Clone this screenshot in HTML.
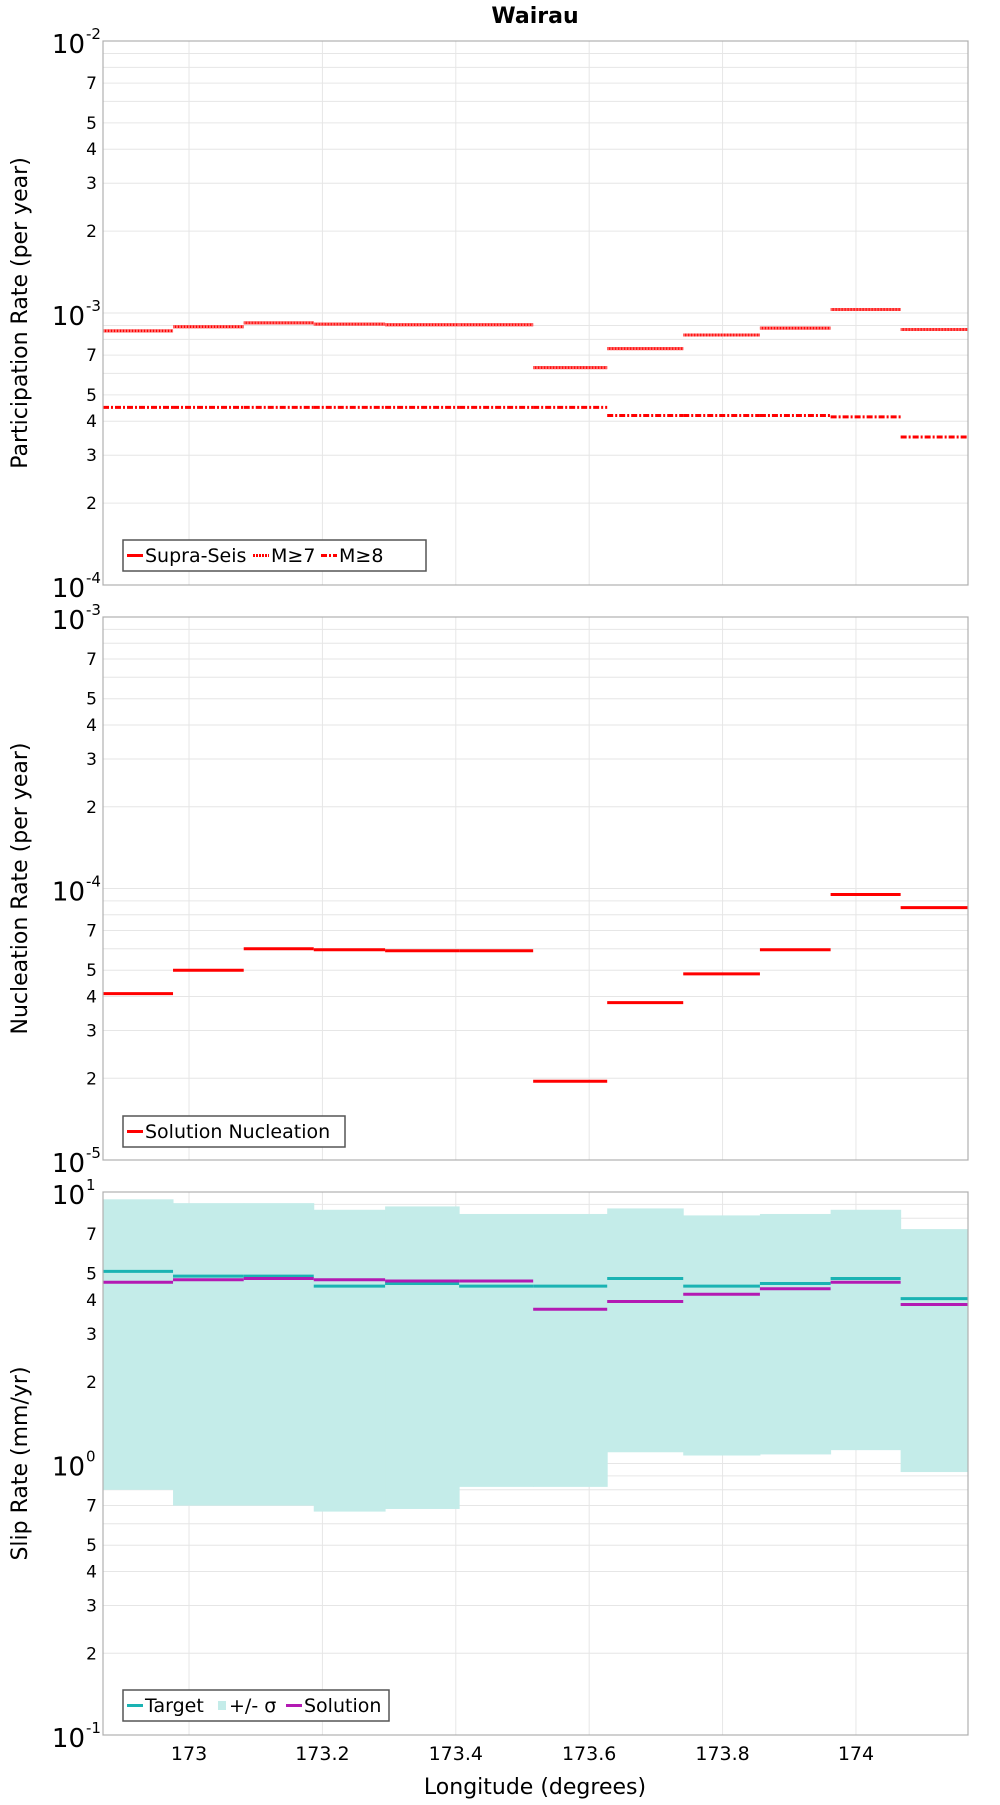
<!DOCTYPE html>
<html><head><meta charset="utf-8"><style>
body{margin:0;background:#fff;}
svg text{font-family:"DejaVu Sans","Liberation Sans",sans-serif;}
</style></head><body>
<svg id="chart" width="1000" height="1800" viewBox="0 0 1000 1800" xmlns="http://www.w3.org/2000/svg">
<text x="535" y="23" font-size="22" font-weight="bold" text-anchor="middle">Wairau</text>
</svg>
<script>
const bounds=[172.871,172.976,173.082,173.187,173.294,173.405,173.516,173.627,173.741,173.856,173.962,174.067,174.168];
const xTicks=[173,173.2,173.4,173.6,173.8,174];
const xTickLabels=["173","173.2","173.4","173.6","173.8","174"];
const supraSeis=[0.86e-3,0.89e-3,0.92e-3,0.91e-3,0.905e-3,0.905e-3,0.63e-3,0.74e-3,0.83e-3,0.88e-3,1.03e-3,0.87e-3];
const m7=[0.86e-3,0.89e-3,0.92e-3,0.91e-3,0.905e-3,0.905e-3,0.63e-3,0.74e-3,0.83e-3,0.88e-3,1.03e-3,0.87e-3];
const m8=[0.45e-3,0.45e-3,0.45e-3,0.45e-3,0.45e-3,0.45e-3,0.45e-3,0.42e-3,0.42e-3,0.42e-3,0.415e-3,0.35e-3];
const nucleation=[4.1e-5,5.0e-5,6.0e-5,5.95e-5,5.9e-5,5.9e-5,1.95e-5,3.8e-5,4.85e-5,5.95e-5,9.5e-5,8.5e-5];
const slipTarget=[5.1,4.9,4.9,4.5,4.6,4.5,4.5,4.8,4.5,4.6,4.8,4.05];
const slipSolution=[4.65,4.75,4.8,4.75,4.7,4.7,3.7,3.95,4.2,4.4,4.65,3.85];
const sigmaUpper=[9.4,9.1,9.1,8.6,8.85,8.3,8.3,8.7,8.2,8.3,8.6,7.3];
const sigmaLower=[0.80,0.70,0.70,0.665,0.68,0.82,0.82,1.10,1.07,1.08,1.12,0.93];

const NS="http://www.w3.org/2000/svg";
const svg=document.getElementById('chart');
const L=103,R=968;
function X(v){return L+(v-bounds[0])/(bounds[12]-bounds[0])*(R-L);}
function mk(tag,attrs,parent){const e=document.createElementNS(NS,tag);for(const k in attrs)e.setAttribute(k,attrs[k]);(parent||svg).appendChild(e);return e;}

function panel(top,bot,minExp,title,name){
  const g=mk('g',{});
  
  
  const Y=v=>bot-(Math.log10(v)-minExp)/2*(bot-top);
  // grid
  for(let d=0;d<2;d++)for(let m=2;m<=9;m++){
    const v=m*Math.pow(10,minExp+d);const y=Y(v);
    const ln=mk('line',{x1:L,x2:R,y1:y,y2:y,stroke:'#e6e6e6','stroke-width':1},g);
    
    if([2,3,4,5,7].includes(m)){
      const t=mk('text',{x:L-6,y:y+6,'font-size':17,'text-anchor':'end'},g);t.textContent=m;
      
    }
  }
  const yMid=Y(Math.pow(10,minExp+1));
  mk('line',{x1:L,x2:R,y1:yMid,y2:yMid,stroke:'#e6e6e6'},g);
  for(const xt of xTicks){const x=X(xt);mk('line',{x1:x,x2:x,y1:top,y2:bot,stroke:'#e6e6e6'},g);}
  for(let d=0;d<=2;d++){
    const y=Y(Math.pow(10,minExp+d));
    const t=mk('text',{x:L-18,y:y+12,'font-size':26,'text-anchor':'end'},g);t.textContent='10';
    
    const s=mk('text',{x:L-17,y:y-2,'font-size':15,'text-anchor':'start'},g);s.textContent=(minExp+d);
  }
  const tt=mk('text',{x:0,y:0,'font-size':22,'text-anchor':'middle',transform:`translate(27,${(top+bot)/2}) rotate(-90)`},g);
  tt.textContent=title;
  return {g,Y,top,bot};
}
function frame(p){mk('rect',{x:L,y:p.top,width:R-L,height:p.bot-p.top,fill:'none',stroke:'#b0b0b0','stroke-width':1.2},p.g);}
function steps(p,arr,color,dash,name,w){
  arr.forEach((v,i)=>{
    const y=p.Y(v);
    const ln=mk('line',{x1:X(bounds[i]),x2:X(bounds[i+1]),y1:y,y2:y,stroke:color,'stroke-width':w||3},p.g);
    if(dash)ln.setAttribute('stroke-dasharray',dash);
    
  });
}
function legend(p,x,y,w,items){
  const g=mk('g',{},p.g);
  
  mk('rect',{x:x,y:y,width:w,height:31,fill:'#fff',stroke:'#555','stroke-width':1.5},g);
  let cx=x+4;
  for(const it of items){
    if(it.box){mk('rect',{x:cx+1,y:y+11,width:8,height:9,fill:it.color},g);cx+=12;}
    else{const l=mk('line',{x1:cx,x2:cx+16,y1:y+15.5,y2:y+15.5,stroke:it.color,'stroke-width':3},g);if(it.dash)l.setAttribute('stroke-dasharray',it.dash);cx+=18;}
    const t=mk('text',{x:cx,y:y+22,'font-size':19},g);t.textContent=it.label;
    
    cx+=it.w;
  }
}
// Panel 1
const p1=panel(41,585,-4,'Participation Rate (per year)','participation-panel');
steps(p1,supraSeis,'#ff0000',null,'supra-seis-segment');
steps(p1,m7,'#ff6666','2,1','m7-segment');
steps(p1,m8,'#ff0000','6,2,2,2','m8-segment');
frame(p1);
legend(p1,123,540,303,[{label:'Supra-Seis',color:'#f00',w:108},{label:'M≥7',color:'#f00',dash:'2,1',w:50},{label:'M≥8',color:'#f00',dash:'6,2,2,2',w:50}]);
// Panel 2
const p2=panel(617,1160,-5,'Nucleation Rate (per year)','nucleation-panel');
steps(p2,nucleation,'#ff0000',null,'nucleation-segment');
frame(p2);
legend(p2,123,1116,222,[{label:'Solution Nucleation',color:'#f00',w:200}]);
// Panel 3
const p3=panel(1192,1735,-1,'Slip Rate (mm/yr)','slip-panel');
sigmaUpper.forEach((u,i)=>{
  const r=mk('rect',{x:X(bounds[i]),y:p3.Y(u),width:X(bounds[i+1])-X(bounds[i])+0.5,height:p3.Y(sigmaLower[i])-p3.Y(u),fill:'#c4ece9'},p3.g);
  
});
steps(p3,slipTarget,'#1ab3b3',null,'target-segment');
steps(p3,slipSolution,'#b31ab3',null,'solution-segment');
frame(p3);
legend(p3,123,1690,266,[{label:'Target',color:'#1ab3b3',w:72},{label:'+/- σ',color:'#c4ece9',box:true,w:57},{label:'Solution',color:'#b31ab3',w:90}]);
// X ticks
xTicks.forEach((v,i)=>{
  const t=mk('text',{x:X(v),y:1760,'font-size':19,'text-anchor':'middle'});t.textContent=xTickLabels[i];
  
});
const xt=mk('text',{x:535,y:1794,'font-size':22,'text-anchor':'middle'});xt.textContent='Longitude (degrees)';

</script>
</body></html>
